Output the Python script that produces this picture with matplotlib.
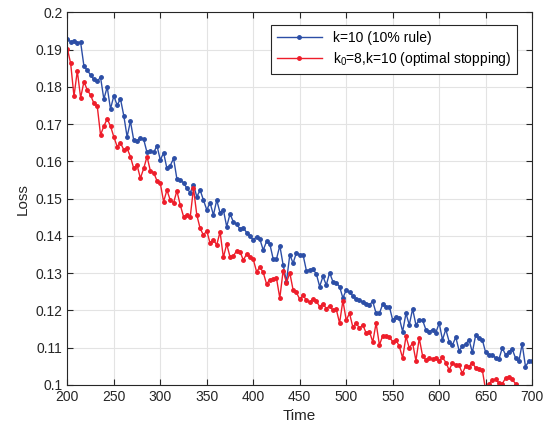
import matplotlib
matplotlib.use("Agg")
import matplotlib.pyplot as plt
import numpy as np

plt.rcParams['font.family'] = ['Liberation Sans', 'DejaVu Sans']
plt.rcParams['mathtext.default'] = 'regular'

# time axis: 141 evenly spaced samples from 200 to 700
time = np.linspace(200, 700, 141)

loss_rule = [
    .1930, .1921, .1923, .1919, .1920, .1856, .1845, .1832, .1820, .1815,
    .1826, .1767, .1800, .1741, .1776, .1751, .1768, .1723, .1666, .1708,
    .1657, .1654, .1664, .1659, .1624, .1629, .1624, .1642, .1604, .1623,
    .1581, .1589, .1608, .1553, .1549, .1543, .1528, .1516, .1537, .1505,
    .1523, .1496, .1470, .1489, .1456, .1496, .1462, .1470, .1425, .1459,
    .1438, .1431, .1419, .1422, .1409, .1400, .1389, .1398, .1391, .1362,
    .1385, .1378, .1338, .1338, .1374, .1322, .1277, .1349, .1327, .1355,
    .1349, .1349, .1307, .1309, .1310, .1298, .1264, .1291, .1268, .1301,
    .1277, .1274, .1264, .1233, .1255, .1248, .1239, .1230, .1228, .1222,
    .1218, .1215, .1224, .1192, .1192, .1217, .1210, .1210, .1174, .1183,
    .1179, .1143, .1192, .1161, .1204, .1161, .1174, .1174, .1148, .1143,
    .1148, .1140, .1166, .1121, .1149, .1116, .1107, .1128, .1092, .1103,
    .1110, .1121, .1087, .1134, .1125, .1121, .1087, .1081, .1081, .1072,
    .1069, .1099, .1081, .1089, .1096, .1072, .1063, .1110, .1049, .1063,
    .1064,
]

loss_stop = [
    .1903, .1863, .1775, .1843, .1771, .1814, .1792, .1778, .1756, .1749,
    .1671, .1695, .1714, .1695, .1666, .1640, .1650, .1631, .1635, .1613,
    .1581, .1590, .1555, .1581, .1613, .1575, .1570, .1548, .1541, .1492,
    .1523, .1496, .1489, .1521, .1483, .1452, .1456, .1450, .1528, .1456,
    .1420, .1402, .1414, .1380, .1389, .1376, .1411, .1342, .1378, .1344,
    .1346, .1360, .1358, .1335, .1351, .1344, .1337, .1304, .1316, .1302,
    .1271, .1282, .1284, .1286, .1233, .1307, .1274, .1301, .1255, .1248,
    .1230, .1240, .1228, .1222, .1230, .1225, .1210, .1218, .1205, .1212,
    .1200, .1203, .1166, .1226, .1174, .1192, .1155, .1166, .1152, .1161,
    .1139, .1143, .1115, .1166, .1107, .1132, .1130, .1128, .1116, .1121,
    .1103, .1072, .1130, .1099, .1112, .1065, .1125, .1078, .1067, .1072,
    .1069, .1073, .1064, .1074, .1060, .1040, .1058, .1054, .1052, .1031,
    .1051, .1049, .1060, .1045, .1042, .1040, .0985, .1003, .1012, .1015,
    .1005, .1003, .1018, .1021, .1015, .1003,
]

labels = ['k=10 (10% rule)', 'k$_0$=8,k=10 (optimal stopping)']
colors = ['#2c4ea6', '#ee1d2a']

fig = plt.figure(figsize=(5.52, 4.30), dpi=100)
ax = fig.add_axes([0.122, 0.105, 0.842, 0.866])

ax.plot(time, loss_rule, color=colors[0], marker='.', markersize=5, linewidth=1.0, label=labels[0])
ax.plot(time[:len(loss_stop)], loss_stop, color=colors[1], marker='.', markersize=5, linewidth=1.0, label=labels[1])

ax.set_xlim(200, 700)
ax.set_ylim(0.1, 0.2)
ax.set_xticks(np.arange(200, 701, 50))
ax.set_yticks(np.arange(0.1, 0.2001, 0.01))
ax.set_yticklabels(['0.1', '0.11', '0.12', '0.13', '0.14', '0.15', '0.16', '0.17', '0.18', '0.19', '0.2'])
ax.set_xlabel('Time', fontsize=11, color='#262626')
ax.set_ylabel('Loss', fontsize=11, color='#262626')

ax.grid(True, color='#e3e3e3', linewidth=0.8)
ax.set_axisbelow(True)
ax.tick_params(direction='in', top=True, right=True, labelsize=10, colors='#262626', length=4)
for s in ax.spines.values():
    s.set_color('#262626')
    s.set_linewidth(0.8)

leg = ax.legend(loc='upper right', bbox_to_anchor=(0.983, 0.985), fontsize=10, handlelength=3.2,
                fancybox=False, framealpha=1, edgecolor='#262626', borderpad=0.45, labelspacing=0.35)
leg.get_frame().set_linewidth(0.8)

fig.savefig('out.png', dpi=100)
